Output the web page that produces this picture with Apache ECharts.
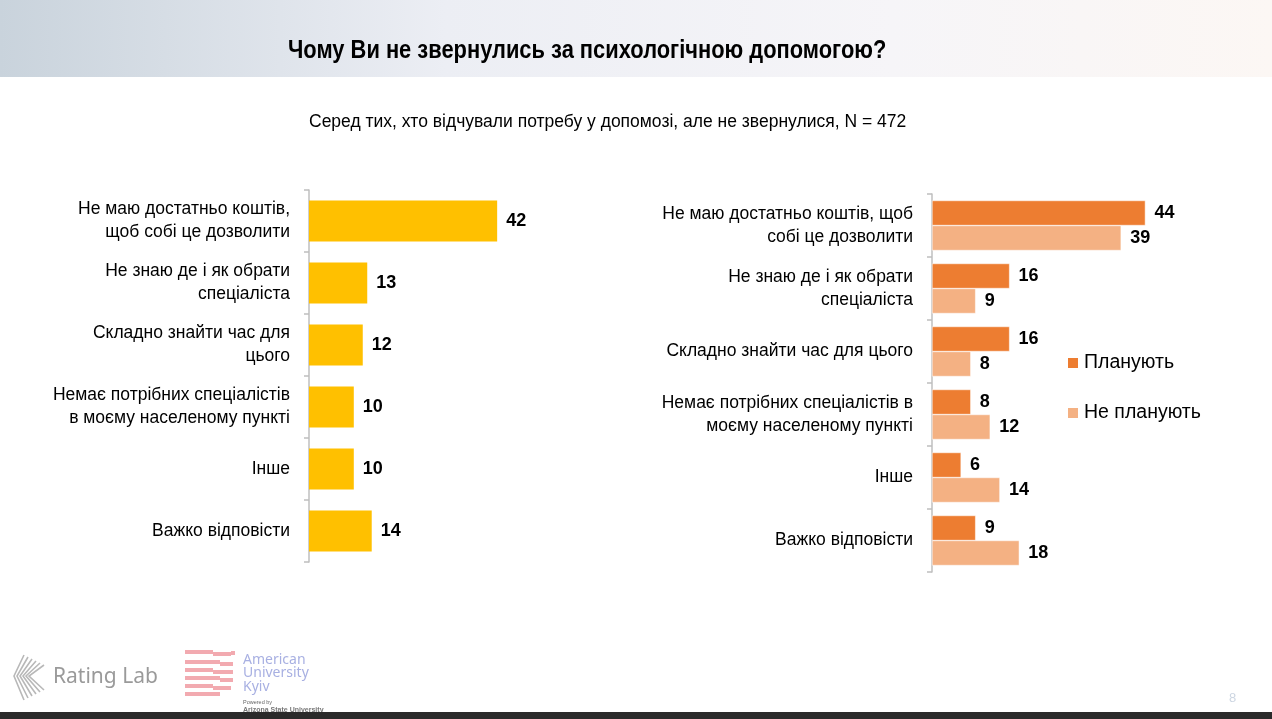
<!DOCTYPE html>
<html>
<head>
<meta charset="utf-8">
<script src="https://cdn.jsdelivr.net/npm/echarts@6/dist/echarts.min.js"></script>
<style>
html,body{margin:0;padding:0;background:#fff;}
#c{width:1272px;height:719px;}
</style>
</head>
<body>
<div id="c"></div>
<script>
const titleText = 'Чому Ви не звернулись за психологічною допомогою?';
const subtitleText = 'Серед тих, хто відчували потребу у допомозі, але не звернулися, N = 472';
const categoriesLeft = [
  'Не маю достатньо коштів,\nщоб собі це дозволити',
  'Не знаю де і як обрати\nспеціаліста',
  'Складно знайти час для\nцього',
  'Немає потрібних спеціалістів\nв моєму населеному пункті',
  'Інше',
  'Важко відповісти'
];
const categoriesRight = [
  'Не маю достатньо коштів, щоб\nсобі це дозволити',
  'Не знаю де і як обрати\nспеціаліста',
  'Складно знайти час для цього',
  'Немає потрібних спеціалістів в\nмоєму населеному пункті',
  'Інше',
  'Важко відповісти'
];
const totalValues = [42, 13, 12, 10, 10, 14];
const seriesNames = ['Планують', 'Не планують'];
const planValues = [44, 16, 16, 8, 6, 9];
const noPlanValues = [39, 9, 8, 12, 14, 18];

const FONT = "'Liberation Sans', Arial, sans-serif";
const chart = echarts.init(document.getElementById('c'), null, {renderer: 'canvas'});

const valueLabel = {
  show: true, position: 'right', distance: 9,
  color: '#000', fontFamily: FONT, fontWeight: 'bold', fontSize: 18
};
const catAxisCommon = {
  type: 'category', inverse: true,
  axisLine: {show: true, lineStyle: {color: '#bfbfbf', width: 1.5}},
  axisTick: {show: true, length: 5, lineStyle: {color: '#bfbfbf', width: 1.5}},
  axisLabel: {color: '#000', fontFamily: FONT, fontSize: 17.5, align: 'right', lineHeight: 23, margin: 19},
  splitLine: {show: false}
};

// Rating Lab icon lines
const iconLines = [];
for (let i = 0; i < 6; i++) {
  iconLines.push({
    type: 'polyline',
    shape: {points: [[24 + i * 4, 655 + i * 2], [14 + i * 3, 676], [24 + i * 4, 700 - i * 2]]},
    style: {stroke: '#b8b8b8', lineWidth: 1.6, fill: null}
  });
}
// AUK stripes
const stripes = [];
const stripeRows = [
  [185, 650, 28], [213, 652, 18],
  [185, 660, 35], [220, 662, 13],
  [185, 668, 28], [213, 670, 20],
  [185, 676, 35], [220, 678, 13],
  [185, 684, 28], [213, 686, 18],
  [185, 692, 35]
];
stripeRows.forEach(r => stripes.push({type: 'rect', shape: {x: r[0], y: r[1], width: r[2], height: 4}, style: {fill: '#f2aab0'}}));
stripes.push({type: 'rect', shape: {x: 231, y: 651, width: 4, height: 4}, style: {fill: '#f2aab0'}});

chart.setOption({
  animation: false,
  graphic: [
    {type: 'rect', z: -10, shape: {x: 0, y: 0, width: 1272, height: 77},
      style: {fill: new echarts.graphic.LinearGradient(0, 0, 1, 0, [
        {offset: 0, color: '#c9d3dc'}, {offset: 0.35, color: '#eceef4'},
        {offset: 0.7, color: '#f6f5f8'}, {offset: 1, color: '#fcf7f4'}])}},
    {type: 'text', x: 288, y: 39, scaleX: 0.875, style: {text: titleText, fill: '#000',
      font: "bold 25px 'Liberation Sans', Arial, sans-serif"}},
    {type: 'text', left: 309, top: 113, style: {text: subtitleText, fill: '#000',
      font: "17.5px 'Liberation Sans', Arial, sans-serif"}},
    ...iconLines,
    {type: 'text', left: 53, top: 667, style: {text: 'Rating Lab', fill: '#9a9a9a', font: "21px 'Noto Sans', sans-serif"}},
    ...stripes,
    {type: 'text', left: 243, top: 653, style: {text: 'American\nUniversity\nKyiv', fill: '#a8b0e2', lineHeight: 13.5, font: "14px 'Noto Sans', sans-serif"}},
    {type: 'text', left: 243, top: 699, style: {text: 'Powered by', fill: '#666', font: "5.5px 'Liberation Sans', sans-serif"}},
    {type: 'text', left: 243, top: 707, style: {text: 'Arizona State University', fill: '#777', font: "bold 7px 'Liberation Sans', sans-serif"}},
    {type: 'text', left: 1229, top: 692, style: {text: '8', fill: '#cdd6e2', font: "13px 'Liberation Sans', sans-serif"}},
    {type: 'rect', shape: {x: 0, y: 712, width: 1272, height: 7}, style: {fill: '#2a2a2a'}}
  ],
  legend: {
    data: seriesNames, orient: 'vertical', left: 1061, top: 348,
    itemWidth: 12, itemHeight: 12, itemGap: 30, icon: 'rect',
    textStyle: {color: '#000', fontFamily: FONT, fontSize: 19.5}
  },
  grid: [
    {left: 309, top: 190, width: 224, height: 372, containLabel: false},
    {left: 932, top: 194, width: 242.5, height: 378, containLabel: false}
  ],
  xAxis: [
    {type: 'value', gridIndex: 0, min: 0, max: 50, show: false},
    {type: 'value', gridIndex: 1, min: 0, max: 50, show: false}
  ],
  yAxis: [
    Object.assign({}, catAxisCommon, {gridIndex: 0, data: categoriesLeft}),
    Object.assign({}, catAxisCommon, {gridIndex: 1, data: categoriesRight})
  ],
  series: [
    {name: 'Всі', type: 'bar', xAxisIndex: 0, yAxisIndex: 0, data: totalValues, barWidth: 41,
      itemStyle: {color: '#ffc000'}, label: valueLabel},
    {name: seriesNames[0], type: 'bar', xAxisIndex: 1, yAxisIndex: 1, data: planValues, barWidth: 25, barGap: '0%',
      itemStyle: {color: '#ed7d31', borderColor: '#fff', borderWidth: 0.5}, label: valueLabel},
    {name: seriesNames[1], type: 'bar', xAxisIndex: 1, yAxisIndex: 1, data: noPlanValues, barWidth: 25, barGap: '0%',
      itemStyle: {color: '#f4b183', borderColor: '#fff', borderWidth: 0.5}, label: valueLabel}
  ]
});
</script>
</body>
</html>
